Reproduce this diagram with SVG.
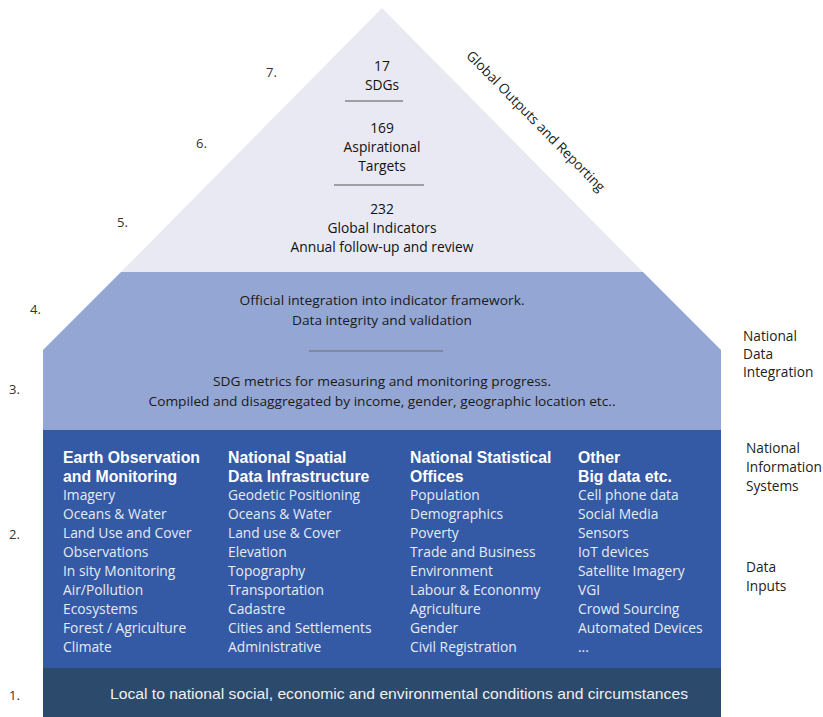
<svg xmlns="http://www.w3.org/2000/svg" width="823" height="717" viewBox="0 0 823 717">
  <style>
    .num { font-family: "Open Sans", "Liberation Sans", sans-serif; font-size: 13px; fill: #333; }
    .tri { font-family: "Open Sans", "Liberation Sans", sans-serif; font-size: 13.8px; fill: #111; text-anchor: middle; }
    .mid { font-family: "Open Sans", "Liberation Sans", sans-serif; font-size: 13px; fill: #1a1a1a; text-anchor: middle; }
    .side { font-family: "Open Sans", "Liberation Sans", sans-serif; font-size: 13.7px; fill: #222; }
    .hd { font-family: "Liberation Sans", Arial, sans-serif; font-size: 15.8px; font-weight: bold; fill: #ffffff; }
    .it { font-family: "Open Sans", "Liberation Sans", sans-serif; font-size: 13.8px; fill: #e6ebf5; }
    .base { font-family: "Liberation Sans", Arial, sans-serif; font-size: 15px; fill: #f0f0f0; text-anchor: middle; }
    .sep { stroke: #555; stroke-width: 1; }
  </style>

  <!-- layer 7-5: global outputs triangle -->
  <g id="global-outputs">
    <polygon points="382,8 643,272 121,272" fill="#e8e9f3"/>
    <text class="tri" x="382" y="71">17</text>
    <text class="tri" x="382" y="90">SDGs</text>
    <line class="sep" x1="345" y1="101" x2="403" y2="101"/>
    <text class="tri" x="382" y="133">169</text>
    <text class="tri" x="382" y="152">Aspirational</text>
    <text class="tri" x="382" y="171">Targets</text>
    <line class="sep" x1="334" y1="185" x2="424" y2="185"/>
    <text class="tri" x="382" y="214">232</text>
    <text class="tri" x="382" y="233">Global Indicators</text>
    <text class="tri" x="382" y="252">Annual follow-up and review</text>
    <text class="side" transform="translate(536,121) rotate(45.5)" text-anchor="middle" y="5" font-size="14.6">Global Outputs and Reporting</text>
  </g>

  <!-- layer 4-3: national data integration -->
  <g id="data-integration">
    <polygon points="121,272 643,272 721,350 721,430 43,430 43,350" fill="#94a6d3"/>
    <text class="mid" x="382" y="305" textLength="285" lengthAdjust="spacingAndGlyphs">Official integration into indicator framework.</text>
    <text class="mid" x="382" y="325" textLength="180" lengthAdjust="spacingAndGlyphs">Data integrity and validation</text>
    <line x1="309" y1="351" x2="443" y2="351" stroke="#7a7f8c" stroke-width="1.5"/>
    <text class="mid" x="382" y="386" textLength="338" lengthAdjust="spacingAndGlyphs">SDG metrics for measuring and monitoring progress.</text>
    <text class="mid" x="382" y="406" textLength="467" lengthAdjust="spacingAndGlyphs">Compiled and disaggregated by income, gender, geographic location etc..</text>
  </g>

  <!-- layer 2: data inputs -->
  <g id="data-inputs">
    <rect x="43" y="430" width="678" height="238" fill="#3459a5"/>

    <g id="col-earth-observation">
      <text class="hd" x="63" y="463">Earth Observation</text>
      <text class="hd" x="63" y="482">and Monitoring</text>
      <text class="it" x="63" y="500">Imagery</text>
      <text class="it" x="63" y="519">Oceans &amp; Water</text>
      <text class="it" x="63" y="538">Land Use and Cover</text>
      <text class="it" x="63" y="557">Observations</text>
      <text class="it" x="63" y="576">In sity Monitoring</text>
      <text class="it" x="63" y="595">Air/Pollution</text>
      <text class="it" x="63" y="614">Ecosystems</text>
      <text class="it" x="63" y="633">Forest / Agriculture</text>
      <text class="it" x="63" y="652">Climate</text>
    </g>

    <g id="col-spatial-data">
      <text class="hd" x="228" y="463">National Spatial</text>
      <text class="hd" x="228" y="482">Data Infrastructure</text>
      <text class="it" x="228" y="500">Geodetic Positioning</text>
      <text class="it" x="228" y="519">Oceans &amp; Water</text>
      <text class="it" x="228" y="538">Land use &amp; Cover</text>
      <text class="it" x="228" y="557">Elevation</text>
      <text class="it" x="228" y="576">Topography</text>
      <text class="it" x="228" y="595">Transportation</text>
      <text class="it" x="228" y="614">Cadastre</text>
      <text class="it" x="228" y="633">Cities and Settlements</text>
      <text class="it" x="228" y="652">Administrative</text>
    </g>

    <g id="col-statistical-offices">
      <text class="hd" x="410" y="463">National Statistical</text>
      <text class="hd" x="410" y="482">Offices</text>
      <text class="it" x="410" y="500">Population</text>
      <text class="it" x="410" y="519">Demographics</text>
      <text class="it" x="410" y="538">Poverty</text>
      <text class="it" x="410" y="557">Trade and Business</text>
      <text class="it" x="410" y="576">Environment</text>
      <text class="it" x="410" y="595">Labour &amp; Econonmy</text>
      <text class="it" x="410" y="614">Agriculture</text>
      <text class="it" x="410" y="633">Gender</text>
      <text class="it" x="410" y="652">Civil Registration</text>
    </g>

    <g id="col-big-data">
      <text class="hd" x="578" y="463">Other</text>
      <text class="hd" x="578" y="482">Big data etc.</text>
      <text class="it" x="578" y="500">Cell phone data</text>
      <text class="it" x="578" y="519">Social Media</text>
      <text class="it" x="578" y="538">Sensors</text>
      <text class="it" x="578" y="557">IoT devices</text>
      <text class="it" x="578" y="576">Satellite Imagery</text>
      <text class="it" x="578" y="595">VGI</text>
      <text class="it" x="578" y="614">Crowd Sourcing</text>
      <text class="it" x="578" y="633">Automated Devices</text>
      <text class="it" x="578" y="652">...</text>
    </g>
  </g>

  <!-- layer 1: local conditions -->
  <g id="local-conditions">
    <rect x="43" y="668" width="678" height="49" fill="#2c4a6b"/>
    <text class="base" x="399" y="699" textLength="578" lengthAdjust="spacingAndGlyphs">Local to national social, economic and environmental conditions and circumstances</text>
  </g>

  <!-- layer numbers -->
  <g id="layer-numbers">
    <text class="num" x="266" y="77">7.</text>
    <text class="num" x="196" y="148">6.</text>
    <text class="num" x="117" y="227">5.</text>
    <text class="num" x="30" y="314">4.</text>
    <text class="num" x="9" y="394">3.</text>
    <text class="num" x="9" y="539">2.</text>
    <text class="num" x="9" y="700">1.</text>
  </g>

  <!-- side captions -->
  <g id="side-captions">
    <text class="side" x="743" y="341">National</text>
    <text class="side" x="743" y="359">Data</text>
    <text class="side" x="743" y="377">Integration</text>
    <text class="side" x="746" y="453">National</text>
    <text class="side" x="746" y="472">Information</text>
    <text class="side" x="746" y="491">Systems</text>
    <text class="side" x="746" y="572">Data</text>
    <text class="side" x="746" y="591">Inputs</text>
  </g>
</svg>
